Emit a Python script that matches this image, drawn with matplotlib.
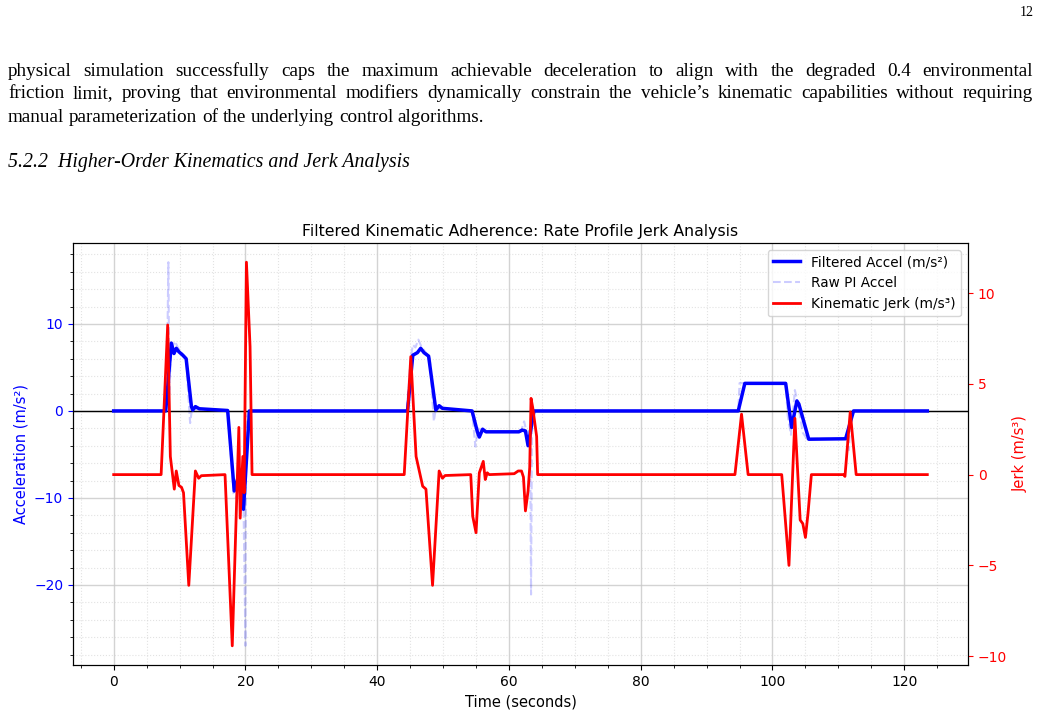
import matplotlib.pyplot as plt
from matplotlib.ticker import AutoMinorLocator

# ---- data ----
t_filt = [0, 7.9, 8.75, 9.15, 9.5, 9.9, 10.5, 11.0, 11.8, 12.0, 12.4, 13.0, 17.3,
          18.3, 19.2, 19.7, 20.6, 44.6, 45.4, 46.1, 46.6, 47.1, 47.8, 48.9, 49.4,
          49.9, 54.4, 55.2, 55.5, 56.0, 56.5, 61.5, 62.0, 62.5, 62.9, 63.3, 63.8,
          94.8, 95.8, 102.0, 102.9, 103.7, 104.0, 105.5, 111.1, 112.3, 123.5]
a_filt = [0, 0, 7.8, 6.6, 7.2, 6.8, 6.4, 6.0, 0.5, 0.1, 0.5, 0.25, 0.05,
          -9.2, -6.8, -11.3, 0, 0, 6.4, 6.7, 7.2, 6.7, 6.3, 0.1, 0.6,
          0.3, 0.0, -2.4, -3.0, -2.1, -2.4, -2.4, -2.2, -2.3, -4.0, -2.2, 0,
          0, 3.17, 3.17, -1.9, 1.15, 0.8, -3.25, -3.2, 0, 0]

t_raw = [0, 7.8, 8.1, 8.3, 8.45, 8.7, 9.0, 9.3, 9.8, 10.5, 11.0, 11.4, 11.6, 11.9,
         12.4, 17.3, 18.2, 18.6, 19.2, 19.7, 20.0, 20.1, 20.5, 44.5, 45.0, 45.4,
         45.8, 46.25, 46.7, 47.5, 48.0, 48.4, 48.6, 48.9, 49.5, 54.4, 54.9, 55.3,
         55.8, 56.3, 61.8, 62.3, 62.7, 63.2, 63.35, 63.5, 63.8, 94.8, 95.0, 102.0,
         102.3, 102.8, 103.4, 103.8, 104.6, 105.2, 111.3, 111.6, 111.9, 123.5]
a_raw = [0, 0, 5, 17.1, 2, 6.5, 7.5, 8.0, 7.2, 6.5, 6.0, 1.0, -1.4, 0.3,
         0.2, 0.05, -9.5, -10, -7, -10.5, -27.0, -1, 0, 0, 5.5, 7.6,
         7.3, 8.2, 7.4, 6.6, 6.2, 1, -1.2, 0.3, 0.3, 0, -4.1, -2.0,
         -2.3, -2.4, -2.4, -1.2, -2.5, -2.2, -21.1, -1, 0, 0, 3.2, 3.2,
         -0.5, -2.75, 2.4, 1.0, -2.5, -3.2, -3.2, -4.5, 0, 0]

t_jerk = [0, 7.2, 8.2, 8.6, 9.2, 9.5, 9.9, 10.3, 10.6, 11.4, 12.4, 12.9, 13.3, 16.9,
          18.0, 19.0, 19.2, 19.6, 19.8, 20.15, 20.7, 21.0, 44.1, 45.1, 45.9, 46.9,
          47.4, 48.4, 49.4, 49.9, 50.3, 54.2, 54.5, 55.0, 55.5, 56.1, 56.4, 56.7,
          57.0, 60.8, 61.4, 61.9, 62.2, 62.5, 62.9, 63.15, 63.35, 63.6, 64.2, 64.35,
          94.3, 95.3, 96.3, 101.4, 102.5, 103.4, 104.2, 104.6, 105.0, 105.4, 105.9,
          110.8, 111.0, 111.8, 112.7, 123.5]
jerk = [0, 0, 8.24, 1.0, -0.8, 0.2, -0.6, -0.7, -1.0, -6.1, 0.2, -0.2, -0.06, 0,
        -9.43, 2.6, -2.4, 1.0, -1.0, 11.7, 7.05, 0, 0, 6.5, 1.0, -0.64,
        -0.8, -6.1, 0.2, -0.2, -0.05, 0, -2.3, -3.2, 0.1, 0.73, -0.27, 0.1,
        0, 0.05, 0.2, 0.2, -0.14, -2.0, -0.9, 0.4, 4.2, 3.7, 2.1, 0,
        0, 3.33, 0, 0, -5.0, 3.1, -2.5, -2.7, -3.46, -2.1, 0,
        0, -0.1, 3.45, 0, 0]

page_lines = [
    "physical simulation successfully caps the maximum achievable deceleration to align with the degraded 0.4 environmental",
    "friction limit, proving that environmental modifiers dynamically constrain the vehicle\u2019s kinematic capabilities without requiring",
    "manual parameterization of the underlying control algorithms.",
]
heading = "5.2.2  Higher-Order Kinematics and Jerk Analysis"

W, H = 1041, 713
fig = plt.figure(figsize=(W / 100, H / 100), dpi=100)
fig.patch.set_facecolor('white')

# page text (justified by hand)
serif = 'Liberation Serif'
body_fs = 13.8
fig.text(1034 / W, 1 - 13 / H, "12", family=serif, fontsize=10, ha='right', va='center')
renderer = fig.canvas.get_renderer()
x0, x1 = 8, 1033
ys = [71, 94, 117]
space_w = fig.text(0, 0, "a a", family=serif, fontsize=body_fs, alpha=0).get_window_extent(renderer).width \
    - 2 * fig.text(0, 0, "a", family=serif, fontsize=body_fs, alpha=0).get_window_extent(renderer).width
for k, line in enumerate(page_lines):
    words = line.split()
    objs = [fig.text(0, 1 - ys[k] / H, w, family=serif, fontsize=body_fs, va='center') for w in words]
    widths = [o.get_window_extent(renderer).width for o in objs]
    if k < len(page_lines) - 1:
        gap = (x1 - x0 - sum(widths)) / (len(words) - 1)
    else:
        gap = space_w
    x = x0
    for o, w in zip(objs, widths):
        o.set_x(x / W)
        x += w + gap
fig.text(8 / W, 1 - 163 / H, heading, family=serif, style='italic', fontsize=14.3, va='center')

# chart
ax1 = fig.add_axes([73 / W, 48 / H, 895 / W, 422 / H])
l1, = ax1.plot(t_filt, a_filt, color='blue', lw=2.5, label='Filtered Accel (m/s\u00b2)', zorder=3)
l2, = ax1.plot(t_raw, a_raw, color='blue', ls='--', lw=1.5, alpha=0.2, label='Raw PI Accel', zorder=2)
ax1.axhline(0, color='black', lw=1, zorder=2.5)
ax1.set_xlabel('Time (seconds)', fontsize=10.5)
ax1.set_ylabel('Acceleration (m/s\u00b2)', color='blue', fontsize=10.5)
ax1.tick_params(axis='y', which='major', colors='blue')
ax1.tick_params(labelsize=10)
ax1.xaxis.set_minor_locator(AutoMinorLocator())
ax1.yaxis.set_minor_locator(AutoMinorLocator())
ax1.grid(True, which='major', color='#c8c8c8', lw=1, alpha=0.8)
ax1.grid(True, which='minor', color='#d0d0d0', ls=':', lw=0.8, alpha=0.6)

ax2 = ax1.twinx()
l3, = ax2.plot(t_jerk, jerk, color='red', lw=2, label='Kinematic Jerk (m/s\u00b3)')
ax2.set_ylabel('Jerk (m/s\u00b3)', color='red', fontsize=10.5)
ax2.tick_params(axis='y', colors='red', labelsize=10)

ax1.set_title('Filtered Kinematic Adherence: Rate Profile Jerk Analysis', fontsize=11.3, pad=5)
ax2.legend(handles=[l1, l2, l3], loc='upper right', fontsize=9.8)

fig.savefig('out.png', dpi=100)
